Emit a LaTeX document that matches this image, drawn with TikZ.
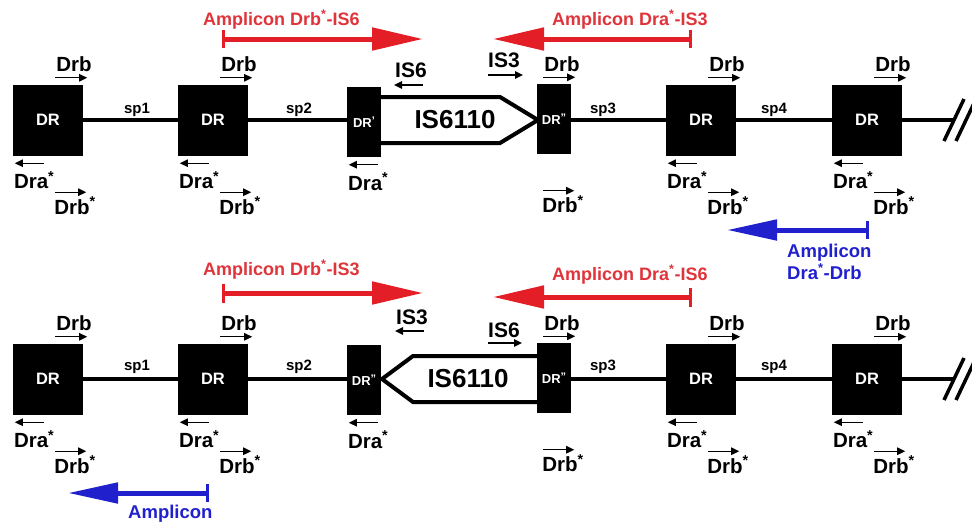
\documentclass[tikz,border=0pt]{standalone}
\usepackage{fontspec}
\setmainfont{Liberation Sans}
\usetikzlibrary{arrows.meta,calc}
\definecolor{ampred}{RGB}{228,30,38}
\definecolor{ampredtxt}{RGB}{222,52,58}
\definecolor{ampblue}{RGB}{32,32,205}
\newcommand\fsz[1]{\bfseries\fontsize{#1}{#1}\selectfont}
\newcommand\pr{\raisebox{3pt}{\fsz{11}'}}
\newcommand\ppr{\raisebox{3pt}{\fsz{11}''}}
\begin{document}
\begin{tikzpicture}[x=1pt,y=-1pt,
  drbox/.style={fill=black, minimum width=70pt, minimum height=71pt, inner sep=0pt, text=white, font=\fsz{16.5}},
  drsmall/.style={drbox, minimum width=34pt, minimum height=70pt, font=\fsz{13}},
  lbl/.style={anchor=base west, inner sep=0pt, font=\fsz{20.5}},
  islbl/.style={anchor=base west, inner sep=0pt, font=\fsz{21}},
  splbl/.style={anchor=base, inner sep=0pt, font=\fsz{15}},
  primer/.style={line width=1.3pt, -{Triangle[length=8pt,width=7.5pt]}},
  chrom/.style={line width=4.5pt},
  slash/.style={line width=3.5pt},
  isbox/.style={line width=4pt, fill=white, line join=miter},
  istext/.style={inner sep=0pt, font=\fsz{26}},
  redamp/.style={line width=5pt, draw=ampred, -{Triangle[length=51pt,width=22pt]}},
  blueamp/.style={line width=5pt, draw=ampblue, -{Triangle[length=50pt,width=20pt]}},
  redbar/.style={line width=3pt, draw=ampred},
  bluebar/.style={line width=3pt, draw=ampblue},
  redtxt/.style={anchor=base west, inner sep=0pt, font=\fsz{18}, text=ampredtxt},
  bluetxt/.style={anchor=base west, inner sep=0pt, font=\fsz{18.5}, text=ampblue}
]
\useasboundingbox (0,0) rectangle (972,522);

% ---------- chromosome lines ----------
\coordinate (la-s) at (13,120);
\coordinate (la-e) at (953,120);
\coordinate (lb-s) at (13,379);
\coordinate (lb-e) at (953,379);
\draw[chrom] (la-s) -- (la-e);
\draw[chrom] (lb-s) -- (lb-e);

% ---------- IS6110 elements ----------
\draw[isbox] (376,97) -- (500,97) -- (538,120) -- (500,143) -- (376,143);
\node[istext] (isa) at (455,120) {IS6110};
\draw[isbox] (543,356) -- (413,356) -- (382,379) -- (413,402) -- (543,402);
\node[istext] (isb) at (468,379) {IS6110};

% ---------- DR boxes ----------
\foreach \n/\x in {a1/48,a2/213,a5/701,a6/867}{
  \node[drbox] (\n) at (\x,120) {DR};
}
\foreach \n/\x in {b1/48,b2/213,b5/701,b6/867}{
  \node[drbox] (\n) at (\x,379) {DR};
}
\node[drsmall] (a3) at (364,122) {DR\pr};
\node[drsmall] (a4) at (554,119) {DR\ppr};
\node[drsmall] (b3) at (364,380) {DR\ppr};
\node[drsmall] (b4) at (554,378) {DR\ppr};

% ---------- end slashes ----------
\coordinate (sa1) at (944,141); \coordinate (sa2) at (964,99);
\coordinate (sa3) at (956,141); \coordinate (sa4) at (976,99);
\draw[slash] (sa1) -- (sa2);
\draw[slash] (sa3) -- (sa4);
\coordinate (sb1) at (944,400); \coordinate (sb2) at (964,358);
\coordinate (sb3) at (956,400); \coordinate (sb4) at (976,358);
\draw[slash] (sb1) -- (sb2);
\draw[slash] (sb3) -- (sb4);

% ---------- spacer labels ----------
\node[splbl] (spa1) at (137,113) {sp1};
\node[splbl] (spa2) at (299,113) {sp2};
\node[splbl] (spa3) at (603,113) {sp3};
\node[splbl] (spa4) at (774,113) {sp4};
\node[splbl] (spb1) at (137,370) {sp1};
\node[splbl] (spb2) at (299,370) {sp2};
\node[splbl] (spb3) at (603,370) {sp3};
\node[splbl] (spb4) at (774,370) {sp4};

% ---------- Drb primers above, Drb* below ----------
\foreach \n in {a1,a2,a4,a5,a6,b1,b2,b4,b5,b6}{
  \node[lbl] (\n-drb) at ($(\n.north east)+(-27,-12.5)$) {Drb};
  \coordinate (\n-drb-s) at ($(\n.north east)+(-28,-6.5)$);
  \coordinate (\n-drb-e) at ($(\n.north east)+(4,-6.5)$);
  \draw[primer] (\n-drb-s) -- (\n-drb-e);
  \coordinate (\n-drbx-s) at ($(\n.south east)+(-28,36.5)$);
  \coordinate (\n-drbx-e) at ($(\n.south east)+(3,36.5)$);
  \draw[primer] (\n-drbx-s) -- (\n-drbx-e);
  \node[lbl] (\n-drbx) at ($(\n.south east)+(-29,58.5)$) {Drb\textsuperscript{*}};
}
% ---------- Dra* primers below ----------
\foreach \n in {a1,a2,a3,a5,a6,b1,b2,b3,b5,b6}{
  \coordinate (\n-dra-s) at ($(\n.south west)+(31,7.5)$);
  \coordinate (\n-dra-e) at ($(\n.south west)+(2,7.5)$);
  \draw[primer] (\n-dra-s) -- (\n-dra-e);
  \node[lbl] (\n-dra) at ($(\n.south west)+(1,33)$) {Dra\textsuperscript{*}};
}

% ---------- IS primers ----------
\node[islbl] (a-is6) at (395,77) {IS6};
\coordinate (a-is6-s) at (423,85); \coordinate (a-is6-e) at (394,85);
\draw[primer] (a-is6-s) -- (a-is6-e);
\node[islbl] (a-is3) at (488,67) {IS3};
\coordinate (a-is3-s) at (488,75); \coordinate (a-is3-e) at (523,75);
\draw[primer] (a-is3-s) -- (a-is3-e);

\node[islbl] (b-is3) at (396,324) {IS3};
\coordinate (b-is3-s) at (424,331); \coordinate (b-is3-e) at (395,331);
\draw[primer] (b-is3-s) -- (b-is3-e);
\node[islbl] (b-is6) at (488,337) {IS6};
\coordinate (b-is6-s) at (488,343); \coordinate (b-is6-e) at (522,343);
\draw[primer] (b-is6-s) -- (b-is6-e);

% ---------- red amplicons, top ----------
\node[redtxt] (ra1-t) at (203,25) {Amplicon Drb\textsuperscript{*}-IS6};
\coordinate (ra1-s) at (223,39); \coordinate (ra1-e) at (423,39);
\coordinate (ra1-b1) at (223,30); \coordinate (ra1-b2) at (223,48);
\draw[redamp] (ra1-s) -- (ra1-e);
\draw[redbar] (ra1-b1) -- (ra1-b2);

\node[redtxt] (ra2-t) at (552,25) {Amplicon Dra\textsuperscript{*}-IS3};
\coordinate (ra2-s) at (690,39); \coordinate (ra2-e) at (493,39);
\coordinate (ra2-b1) at (690,30); \coordinate (ra2-b2) at (690,48);
\draw[redamp] (ra2-s) -- (ra2-e);
\draw[redbar] (ra2-b1) -- (ra2-b2);

% ---------- blue amplicon, top ----------
\coordinate (ba1-s) at (867,230); \coordinate (ba1-e) at (727,230);
\coordinate (ba1-b1) at (867,221); \coordinate (ba1-b2) at (867,239);
\draw[blueamp] (ba1-s) -- (ba1-e);
\draw[bluebar] (ba1-b1) -- (ba1-b2);
\node[bluetxt] (ba1-t1) at (787,257) {Amplicon};
\node[bluetxt] (ba1-t2) at (787,279) {Dra\textsuperscript{*}-Drb};

% ---------- red amplicons, bottom ----------
\node[redtxt] (rb1-t) at (203,275) {Amplicon Drb\textsuperscript{*}-IS3};
\coordinate (rb1-s) at (223,293); \coordinate (rb1-e) at (423,293);
\coordinate (rb1-b1) at (223,284); \coordinate (rb1-b2) at (223,303);
\draw[redamp] (rb1-s) -- (rb1-e);
\draw[redbar] (rb1-b1) -- (rb1-b2);

\node[redtxt] (rb2-t) at (552,280) {Amplicon Dra\textsuperscript{*}-IS6};
\coordinate (rb2-s) at (690,297); \coordinate (rb2-e) at (493,297);
\coordinate (rb2-b1) at (690,288); \coordinate (rb2-b2) at (690,307);
\draw[redamp] (rb2-s) -- (rb2-e);
\draw[redbar] (rb2-b1) -- (rb2-b2);

% ---------- blue amplicon, bottom ----------
\coordinate (bb1-s) at (207,493); \coordinate (bb1-e) at (68,493);
\coordinate (bb1-b1) at (207,484); \coordinate (bb1-b2) at (207,502);
\draw[blueamp] (bb1-s) -- (bb1-e);
\draw[bluebar] (bb1-b1) -- (bb1-b2);
\node[bluetxt] (bb1-t) at (128,518) {Amplicon};
\end{tikzpicture}
\end{document}
